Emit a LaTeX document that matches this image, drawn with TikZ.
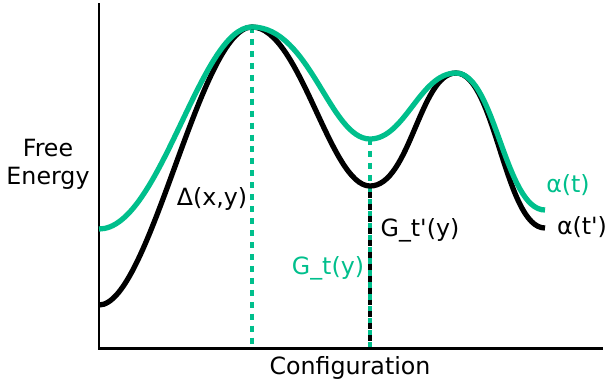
\documentclass[tikz,border=0pt]{standalone}
\usepackage{fontspec}
\setmainfont{DejaVu Sans}[Ligatures=TeXOff]
\definecolor{teal}{RGB}{0,191,140}
\tikzset{
  curve/.style={line width=3pt},
  gap/.style={line width=2.2pt, dash pattern=on 3.4pt off 3.4pt},
  lbl/.style={font=\fontsize{13.5}{16}\selectfont, inner sep=0pt}
}
\begin{document}
\begin{tikzpicture}[x=0.02cm,y=-0.02cm]
	\useasboundingbox (0,0) rectangle (607,386);
	% axes
	\coordinate (top) at (99,3);
	\coordinate (origin) at (99,348);
	\coordinate (right) at (603,348);
	\draw[line width=1.7pt] (top) -- (origin) -- (right);
	% landmarks
	\coordinate (peak) at (252,27);
	\coordinate (minT) at (370,139);
	\coordinate (minTp) at (370,186);
	% dashed drops
	\draw[gap,teal] (peak) -- (peak |- origin);
	\draw[gap,teal] (minT) -- (minT |- origin);
	\draw[gap,black,dash phase=3.4pt] (minTp) -- (minTp |- origin);
	% alpha(t')
	\draw[curve,black] (99,305) .. controls (150,305) and (200,27) .. (peak)
		.. controls (300,27) and (330,186) .. (minTp)
		.. controls (410,186) and (420,73) .. (456,73)
		.. controls (495,73) and (505,228) .. (545,228);
	% alpha(t)
	\draw[curve,teal] (99,229) .. controls (160,229) and (200,27) .. (peak)
		.. controls (310,27) and (330,139) .. (minT)
		.. controls (405,139) and (420,73) .. (456,73)
		.. controls (495,73) and (505,210) .. (545,210);
	\node[lbl,align=center] (fe) at (48,164) {Free\\Energy};
	\node[lbl] (cfg) at (350,368) {Configuration};
	\node[lbl] (dxy) at (212,199) {Δ(x,y)};
	\node[lbl] (gtp) at (420,230) {G\_t'(y)};
	\node[lbl,teal] (gt) at (328,268) {G\_t(y)};
	\node[lbl,teal] (at) at (568,185) {α(t)};
	\node[lbl] (atp) at (582,227) {α(t')};
\end{tikzpicture}
\end{document}
